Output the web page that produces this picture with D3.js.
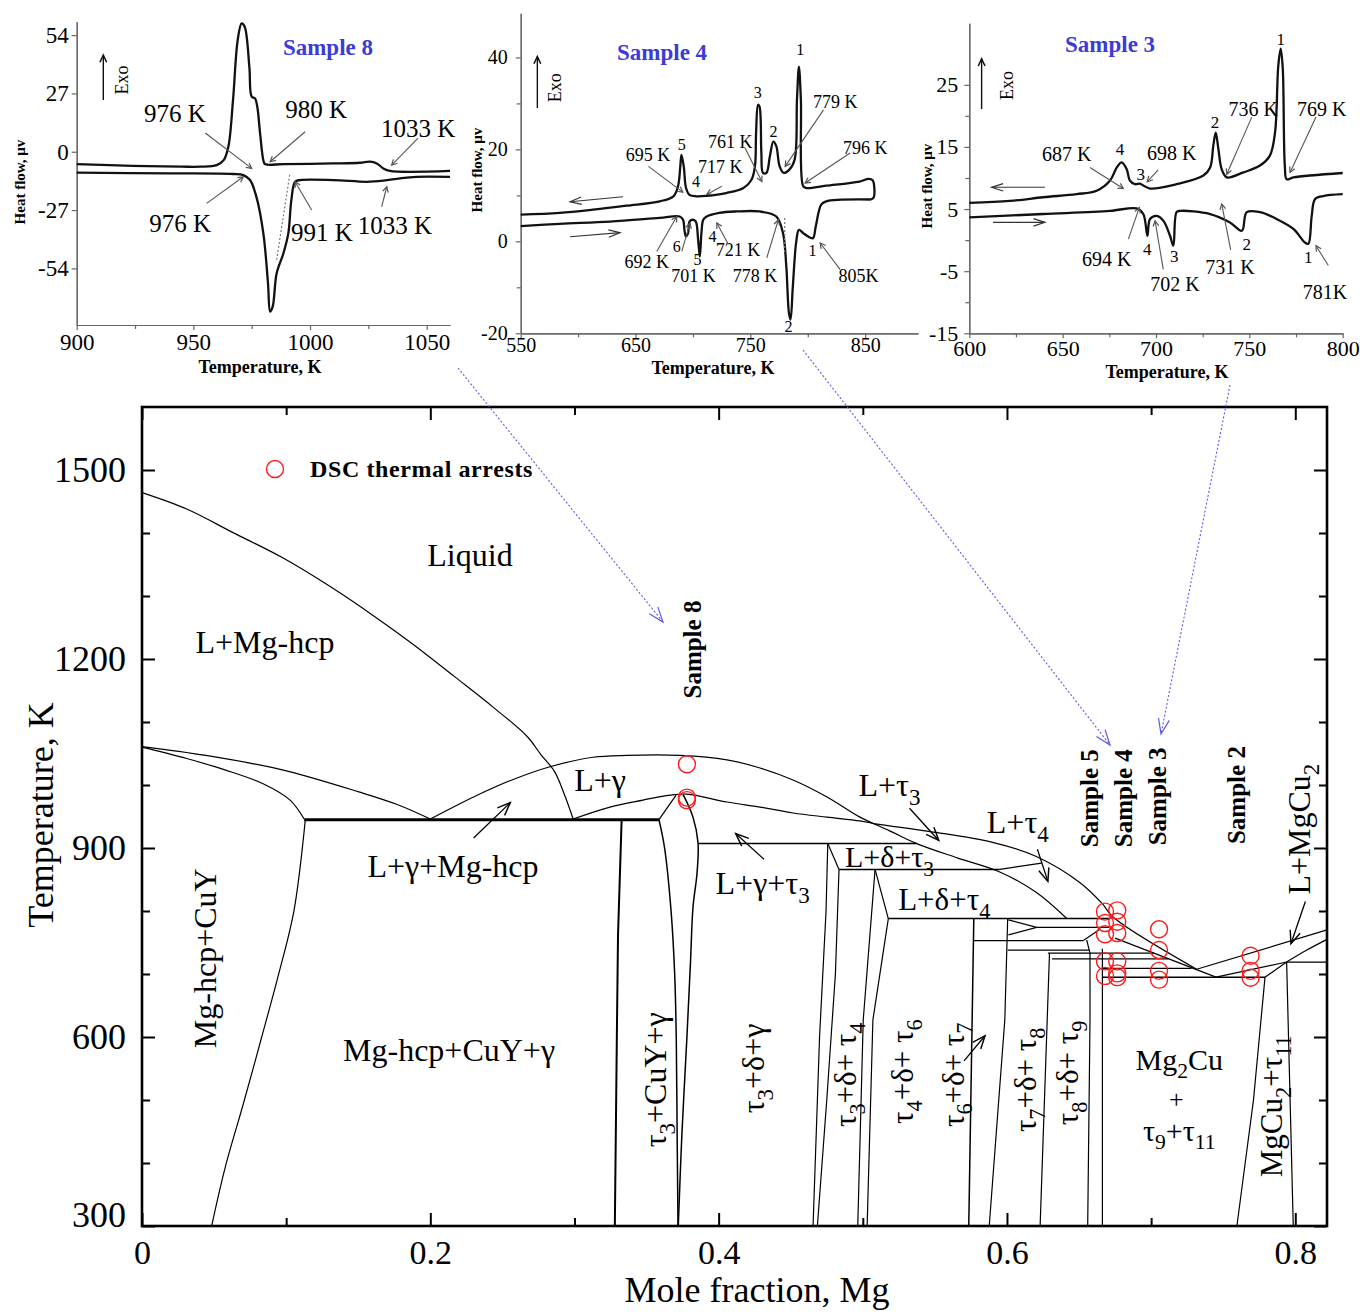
<!DOCTYPE html>
<html><head><meta charset="utf-8">
<script src="https://cdn.jsdelivr.net/npm/d3@7/dist/d3.min.js"></script>
<style>body{margin:0;background:#fff}svg{display:block}</style>
</head><body>
<svg id="c" width="1360" height="1312"></svg>
<script>
// ================= MAIN DIAGRAM DATA (X = mole fraction Mg, T in K) =================
const xTicksMajor = [0, 0.2, 0.4, 0.6, 0.8];
const xTicksMinor = [0.1, 0.3, 0.5, 0.7];
const yTicksMajor = [300, 600, 900, 1200, 1500];
const yTicksMinor = [400, 500, 700, 800, 1000, 1100, 1300, 1400];

const liqHcpUpper = [[0,1464],[0.031,1438],[0.0628,1401],[0.0973,1361],[0.1319,1313],[0.161,1268],[0.19,1220],[0.2168,1172],[0.2433,1124],[0.2672,1077],[0.2768,1048],[0.286,1022],[0.293,985],[0.2991,946]];
const hcpLiquidus = [[0,1061],[0.0443,1047],[0.0973,1024],[0.1504,989],[0.177,969],[0.2,946]];
const hcpSolidus = [[0,1060],[0.031,1042],[0.0575,1024],[0.084,1002],[0.1027,976],[0.1125,946]];
const eutectic945 = [[0.1125,945],[0.3586,945]];
const hcpSolvus = [[0.1133,945],[0.1053,799],[0.0947,699],[0.0828,598],[0.0708,498],[0.0576,392],[0.0483,300]];
const gammaLiquidus = [[0.2,946],[0.23,981],[0.2566,1008],[0.283,1029],[0.3128,1044],[0.3364,1047],[0.3732,1047],[0.4058,1040],[0.4287,1027],[0.4516,1008],[0.4752,981],[0.498,949],[0.518,928],[0.5374,907],[0.566,884],[0.595,862],[0.62,830],[0.6415,788]];
const lowerLiquidus = [[0.299,946],[0.3246,965],[0.3475,976],[0.3663,984],[0.378,985.5],[0.4058,973],[0.4287,965],[0.4516,955.6],[0.4752,949],[0.498,943],[0.51,938],[0.547,926],[0.59,909],[0.62,887],[0.6507,845],[0.666,812],[0.6738,790],[0.7316,707.5]];
const upperVRight = [[0.7316,707.5],[0.822,770]];
const cuyLeft = [[0.3327,945],[0.3302,762],[0.3294,604],[0.328,300]];
const tau3Line = [[0.3586,945],[0.3625,900],[0.367,800],[0.3695,700],[0.3706,600],[0.3712,450],[0.3718,300]];
const tau3Rise = [[0.3586,945],[0.3705,984]];
const gammaRight = [[0.3753,985],[0.3822,949],[0.3857,908],[0.385,860],[0.3822,806],[0.3805,720],[0.378,600],[0.3745,445],[0.372,300]];
const iso907 = [[0.3857,907],[0.5374,907]];
const kinkA = [[0.4757,907],[0.4835,866]];
const deltaLeft1 = [[0.4757,907],[0.4745,800],[0.47,600],[0.4655,300]];
const deltaLeft2 = [[0.4835,866],[0.481,700],[0.475,500],[0.4685,300]];
const iso866 = [[0.4835,866],[0.595,866]];
const link866 = [[0.595,866],[0.624,876]];
const tau4Line1 = [[0.5085,866],[0.5003,627],[0.4965,300]];
const kinkB = [[0.5085,866],[0.5177,788]];
const tau4Line2 = [[0.5177,788],[0.507,627],[0.503,300]];
const iso788 = [[0.5177,788],[0.671,788]];
const tau6Line = [[0.577,788],[0.5735,300]];
const tau7Line = [[0.6005,788],[0.5985,627],[0.5877,300]];
const wedgeTop = [[0.601,786],[0.6206,774]];
const wedgeBot = [[0.601,762],[0.6206,774]];
const iso774 = [[0.6206,774],[0.671,774]];
const iso753 = [[0.577,753],[0.653,753]];
const link753 = [[0.653,753],[0.665,772]];
const iso738 = [[0.6005,738],[0.6576,738]];
const iso733 = [[0.6284,733],[0.702,733]];
const iso724 = [[0.6313,724],[0.712,724]];
const iso709 = [[0.6662,709],[0.728,709]];
const tau8Line = [[0.6295,733],[0.623,300]];
const tau9Line = [[0.6553,754],[0.6576,733],[0.6576,627],[0.656,300]];
const mg2cuLeft = [[0.6662,740],[0.6662,300]];
const lowerVLeft = [[0.675,757],[0.745,695]];
const iso695 = [[0.6662,695],[0.779,695]];
const lowerVRight = [[0.745,695],[0.794,719]];
const mgcu2Corner = [[0.779,695],[0.794,719]];
const iso719 = [[0.794,719],[0.822,719]];
const rightCurve = [[0.794,719],[0.808,738],[0.822,755]];
const mgcu2Left = [[0.779,695],[0.771,500],[0.7595,300]];
const mgcu2Right = [[0.794,719],[0.7986,300]];

// DSC thermal arrests
const sample8X = 0.378, sample8T = [976, 980, 1033];
const sample5X = 0.668, sample5T = [799, 781, 763, 720, 697];
const sample4X = 0.6765, sample4T = [801, 783, 765, 720, 701, 695];
const sample3X = 0.7055, sample3T = [771, 738, 705, 691];
const sample2X = 0.769, sample2T = [729, 705, 694];

// ================= DSC INSET DATA (T in K, heat flow in µV) =================
const s8Ticks = {x:[900,950,1000,1050], y:[54,27,0,-27,-54]};
const s8Cooling = [[900,-5.7],[924,-6.5],[945,-6.9],[953,-6.9],[960,-6.2],[963,-3.9],[965,2.3],[967,23.9],[969,51.7],[970.7,59.4],[972,57.9],[974,39.3],[975,25.5],[976.4,24.7],[977.4,20.8],[978.6,8.5],[980,-3.9],[980.7,-5.7],[988.6,-5.7],[1010,-5.4],[1021.4,-5.1],[1025.7,-4.6],[1028.6,-5.4],[1031.4,-7.7],[1034.3,-8.9],[1060,-8.9]];
const s8Heating = [[900,-9.7],[940,-10.0],[967,-10.3],[971.4,-10.8],[974.3,-13.1],[977,-20.8],[980,-37.8],[982,-61],[982.9,-74],[984,-71.7],[985.7,-56.3],[988.6,-47],[990.7,-37.8],[992,-22.4],[993.6,-13.9],[995.7,-13.1],[1010,-13.1],[1024.3,-13.9],[1031.4,-13.4],[1038.6,-12.3],[1045.7,-11.6],[1060,-11.6]];
const s8Tangent = [[985.7,-50],[991.4,-10]];

const s4Ticks = {x:[550,650,750,850], y:[40,20,0,-20]};
const s4Cooling = [[550,5.8],[584,6.2],[613,6.9],[642,7.75],[671,8.7],[683,9.8],[687,12],[689,16.3],[690,18.8],[692,16.3],[694,11.6],[697,10.1],[703,9.8],[712,9.9],[729,10.5],[744,11.6],[751,13.4],[754,16.3],[755,23.6],[756.7,29.7],[758,29.3],[759.6,19.2],[761,14.9],[764,14.9],[767,18.5],[770,21.7],[772.6,20.7],[775.5,16.3],[779,14.9],[784,15.6],[788.6,17.8],[790.6,30.8],[792.3,38],[794,30.8],[796,12],[798.7,11.6],[816,12.1],[845,13],[853,13.6],[856.5,13.3],[858,11.5],[857.5,9.6],[855,9.1]];
const s4Heating = [[855,9.1],[816,8.7],[811.7,8],[807,3.3],[804.5,0.7],[800,1.1],[796,1.8],[792.3,2.5],[790,0],[787,-9.8],[785,-17],[783.6,-15.6],[781.3,-5.4],[778.4,1.8],[772.6,5.4],[758,6.5],[737.8,6.5],[723,6.2],[712,5.4],[709,4.7],[707.4,1.8],[706,-3.3],[704.5,0.4],[702.5,4.3],[700,4.7],[697,4.3],[695.8,1.8],[693.8,1.1],[692.6,2.5],[691.4,4.7],[688.5,5.4],[671,5.1],[627.7,4.3],[584,3.8],[550,3.3]];
const s4Dashed = [[779.9,5.1],[779.9,-2.5]];

const s3Ticks = {x:[600,650,700,750,800], y:[25,15,5,-5,-15]};
const s3Cooling = [[600,6],[621.8,6.3],[639.6,6.9],[657.5,7.4],[668.2,7.95],[675.4,9.6],[679,11.7],[681.6,12.5],[684.3,11.4],[686,9.6],[688.8,9.0],[691.4,9.1],[693.2,8.8],[696.8,8.3],[711,9.0],[725.4,10.4],[729,11.7],[730.7,15.2],[732,17.3],[733.4,14.7],[735.2,11.4],[737.9,10.1],[746.8,10.9],[755.7,12],[761,13.6],[763.75,17.3],[765.5,28.1],[766.8,30.8],[767.9,27.6],[769,12],[770,9.8],[773.6,10.1],[800,10.8]];
const s3Heating = [[600,3.66],[639.6,4.2],[675.4,4.7],[689.6,5.1],[693.2,4.2],[695.4,0.7],[696.8,3.4],[700.4,3.9],[704,3.1],[707.5,0.7],[709.3,-0.9],[711,4.5],[712.9,4.7],[729,4.2],[739.6,2.85],[746,1.5],[748.6,4.5],[755.7,4.5],[764.6,3.4],[773.6,1.8],[779.8,-0.4],[781.6,-0.6],[783.4,3.9],[785.2,6.6],[789.6,7.1],[800,7.4]];

// ================= DRAWING =================
const FONT = "'Liberation Serif','Times New Roman',serif";
const svg = d3.select('#c');
svg.append('rect').attr('width',1360).attr('height',1312).attr('fill','#fff');

function rich(t, str, fs){
  const parts = str.split(/(_\d+)/).filter(s=>s.length);
  let sub=false;
  parts.forEach(p=>{
    if(p[0]==='_'){ t.append('tspan').attr('font-size',fs*0.72).attr('dy',fs*0.28).text(p.slice(1)); sub=true; }
    else { const ts=t.append('tspan').text(p); if(sub){ts.attr('dy',-fs*0.28); sub=false;} }
  });
}
function arrow(g, x1,y1,x2,y2, o){
  o = Object.assign({color:'#000', w:1.2, head:12, ang:22, dash:null}, o||{});
  const l = g.append('line').attr('x1',x1).attr('y1',y1).attr('x2',x2).attr('y2',y2)
    .attr('stroke',o.color).attr('stroke-width',o.w);
  if(o.dash) l.attr('stroke-dasharray',o.dash);
  const a = Math.atan2(y2-y1,x2-x1), r=o.ang*Math.PI/180;
  const p = [[x2-o.head*Math.cos(a-r), y2-o.head*Math.sin(a-r)],[x2,y2],[x2-o.head*Math.cos(a+r), y2-o.head*Math.sin(a+r)]];
  g.append('path').attr('d', d3.line()(p)).attr('fill','none').attr('stroke',o.color).attr('stroke-width',o.w*1.1);
}

// ---------- Main plot ----------
const x = d3.scaleLinear().domain([0,0.822]).range([142,1327]);
const y = d3.scaleLinear().domain([300,1600]).range([1226,407]);
const main = svg.append('g');

function axisStyle(sel){ sel.select('.domain').remove(); sel.selectAll('line').attr('stroke','#000').attr('stroke-width',2); }
main.append('g').attr('transform','translate(0,1226)')
  .call(d3.axisBottom(x).tickValues(xTicksMajor).tickSize(-13).tickPadding(14).tickFormat(d=>d===0?'0':d3.format('.1f')(d)))
  .call(axisStyle).selectAll('text').attr('font-family',FONT).attr('font-size',34).attr('fill','#000');
main.append('g').attr('transform','translate(0,1226)').call(d3.axisBottom(x).tickValues(xTicksMinor).tickSize(-8).tickFormat('')).call(axisStyle);
main.append('g').attr('transform','translate(0,407)').call(d3.axisTop(x).tickValues(xTicksMajor).tickSize(-13).tickFormat('')).call(axisStyle);
main.append('g').attr('transform','translate(0,407)').call(d3.axisTop(x).tickValues(xTicksMinor).tickSize(-8).tickFormat('')).call(axisStyle);
main.append('g').attr('transform','translate(142,0)')
  .call(d3.axisLeft(y).tickValues(yTicksMajor).tickSize(-13).tickPadding(16).tickFormat(d=>String(d)))
  .call(axisStyle).selectAll('text').attr('font-family',FONT).attr('font-size',36).attr('fill','#000')
  .attr('dy',d=>d===300?'0.0em':'0.32em');
main.append('g').attr('transform','translate(142,0)').call(d3.axisLeft(y).tickValues(yTicksMinor).tickSize(-8).tickFormat('')).call(axisStyle);
main.append('g').attr('transform','translate(1327,0)').call(d3.axisRight(y).tickValues(yTicksMajor).tickSize(-13).tickFormat('')).call(axisStyle);
main.append('g').attr('transform','translate(1327,0)').call(d3.axisRight(y).tickValues(yTicksMinor).tickSize(-8).tickFormat('')).call(axisStyle);

main.append('rect').attr('x',142).attr('y',407).attr('width',1185).attr('height',819)
  .attr('fill','none').attr('stroke','#000').attr('stroke-width',2.6);

const lineLin = d3.line().x(d=>x(d[0])).y(d=>y(d[1]));
const lineCur = d3.line().x(d=>x(d[0])).y(d=>y(d[1])).curve(d3.curveCatmullRom.alpha(0.5));
const boundaries = [
  [liqHcpUpper,1.2,1],[hcpLiquidus,1.2,1],[hcpSolidus,1.2,1],[eutectic945,3,0],[hcpSolvus,1.2,1],
  [gammaLiquidus,1.2,1],[lowerLiquidus,1.2,1],[upperVRight,1.2,0],[cuyLeft,2,0],[tau3Line,1.5,1],[tau3Rise,1.2,0],
  [gammaRight,1.5,1],[iso907,1.5,0],[kinkA,1.2,0],[deltaLeft1,1.2,0],[deltaLeft2,1.2,0],[iso866,1.5,0],[link866,1.2,0],
  [tau4Line1,1.2,0],[kinkB,1.2,0],[tau4Line2,1.2,0],[iso788,1.5,0],[tau6Line,1.5,0],[tau7Line,1.2,0],
  [wedgeTop,1.2,0],[wedgeBot,1.2,0],[iso774,1.2,0],[iso753,1.2,0],[link753,1.2,0],[iso738,1.2,0],
  [iso733,1.2,0],[iso724,1.2,0],[iso709,1.2,0],[tau8Line,1.2,0],[tau9Line,1.2,0],[mg2cuLeft,1.2,0],
  [lowerVLeft,1.2,0],[iso695,1.5,0],[lowerVRight,1.2,0],[mgcu2Corner,1.2,0],[iso719,1.2,0],[rightCurve,1.2,1],
  [mgcu2Left,1.2,0],[mgcu2Right,1.2,0]
];
boundaries.forEach(([pts,w,c])=>{
  main.append('path').attr('d',(c?lineCur:lineLin)(pts)).attr('fill','none').attr('stroke','#000').attr('stroke-width',w);
});

// region labels [text, X, T, rotated, font size]
const regionLabels = [
  ['Liquid',0.2275,1365,0,32],['L+Mg-hcp',0.0853,1227,0,32],['L+γ',0.3177,1008,0,32],['L+γ+Mg-hcp',0.2157,871,0,32],
  ['Mg-hcp+CuY',0.0437,725,1,32],['Mg-hcp+CuY+γ',0.213,579,0,32],['τ_3+CuY+γ',0.3559,532,1,32],['τ_3+δ+γ',0.4235,550,1,32],
  ['τ_3+δ+ τ_4',0.4877,540,1,31],['τ_4+δ+ τ_6',0.5275,545,1,31],['τ_6+δ+ τ_7',0.5625,540,1,31],['τ_7+δ+ τ_8',0.6125,532,1,31],
  ['τ_8+δ+ τ_9',0.642,543,1,31],['Mg_2Cu',0.7195,565,0,30],['+',0.7175,502,0,26],['τ_9+τ_11',0.7195,452,0,30],
  ['MgCu_2+τ_11',0.7835,490,1,31],['L+MgCu_2',0.8025,930,1,32],['L+τ_3',0.5185,1001,0,32],['L+τ_4',0.6075,942,0,32],
  ['L+δ+τ_3',0.5185,886,0,30],['L+δ+τ_4',0.5565,819,0,31],['L+γ+τ_3',0.4305,844,0,32]
];
regionLabels.forEach(([s,X,T,rot,fs])=>{
  const t = main.append('text').attr('font-family',FONT).attr('font-size',fs).attr('text-anchor','middle')
    .attr('dy','0.35em');
  if(rot) t.attr('transform',`translate(${x(X)},${y(T)}) rotate(-90)`);
  else t.attr('x',x(X)).attr('y',y(T));
  rich(t,s,fs);
});
const mainArrows = [[[0.23,916],[0.2555,972]],[[0.4315,882],[0.4118,923]],[[0.5324,963],[0.5527,912]],
  [[0.6211,898],[0.6284,847]],[[0.5702,562],[0.5848,602]],[[0.807,815],[0.797,748]]];
mainArrows.forEach(([a,b])=>arrow(main,x(a[0]),y(a[1]),x(b[0]),y(b[1]),{w:1.3,head:14}));

// sample labels
[['Sample 8',0.3814,1215],['Sample 5',0.657,979],['Sample 4',0.681,979],['Sample 3',0.704,982],['Sample 2',0.759,984]]
.forEach(([s,X,T])=>{
  main.append('text').attr('transform',`translate(${x(X)},${y(T)}) rotate(-90)`).attr('dy','0.35em')
    .attr('text-anchor','middle').attr('font-family',FONT).attr('font-weight','bold').attr('font-size',25).text(s);
});
// DSC circles
[[sample8X,sample8T],[sample5X,sample5T],[sample4X,sample4T],[sample3X,sample3T],[sample2X,sample2T]].forEach(([X,Ts])=>{
  main.selectAll(null).data(Ts).enter().append('circle').attr('cx',x(X)).attr('cy',d=>y(d)).attr('r',8.5)
    .attr('fill','none').attr('stroke','#ff1a1a').attr('stroke-width',1.4);
});
// legend
main.append('circle').attr('cx',275).attr('cy',469).attr('r',8.5).attr('fill','none').attr('stroke','#ff1a1a').attr('stroke-width',1.4);
main.append('text').attr('x',310).attr('y',477).attr('font-family',FONT).attr('font-weight','bold').attr('font-size',24)
  .attr('letter-spacing',0.6).text('DSC thermal  arrests');
// axis titles
main.append('text').attr('transform','translate(40,815) rotate(-90)').attr('dy','0.35em').attr('text-anchor','middle')
  .attr('font-family',FONT).attr('font-size',36).text('Temperature, K');
main.append('text').attr('x',757).attr('y',1302).attr('text-anchor','middle')
  .attr('font-family',FONT).attr('font-size',36).text('Mole fraction, Mg');

// ---------- Insets ----------
function inset(cfg){
  const g = svg.append('g');
  const xs = d3.scaleLinear().domain(cfg.xDom).range(cfg.xR);
  const ys = d3.scaleLinear().domain(cfg.yDom).range(cfg.yR);
  const st = sel=>{ sel.selectAll('path,line').attr('stroke','#666').attr('stroke-width',1.2);
    sel.selectAll('text').attr('font-family',FONT).attr('font-size',cfg.tfs).attr('fill','#000'); };
  g.append('g').attr('transform',`translate(0,${cfg.yR[0]})`).call(d3.axisBottom(xs).tickValues(cfg.ticks.x).tickSize(5).tickSizeOuter(0).tickPadding(cfg.xPad).tickFormat(d=>String(d))).call(st);
  g.append('g').attr('transform',`translate(0,${cfg.yR[0]})`).call(d3.axisBottom(xs).tickValues(cfg.xMinor).tickSize(4).tickSizeOuter(0).tickFormat('')).call(st);
  g.append('g').attr('transform',`translate(${cfg.xR[0]},0)`).call(d3.axisLeft(ys).tickValues(cfg.ticks.y).tickSize(5).tickSizeOuter(0).tickPadding(cfg.yPad).tickFormat(d=>String(d))).call(st);
  g.append('g').attr('transform',`translate(${cfg.xR[0]},0)`).call(d3.axisLeft(ys).tickValues(cfg.yMinor).tickSize(4).tickSizeOuter(0).tickFormat('')).call(st);
  const ln = d3.line().x(d=>xs(d[0])).y(d=>ys(d[1])).curve(d3.curveCatmullRom.alpha(0.5));
  cfg.curves.forEach(c=>g.append('path').attr('d',ln(c)).attr('fill','none').attr('stroke','#111').attr('stroke-width',2.3));
  (cfg.dotted||[]).forEach(c=>g.append('path').attr('d',d3.line().x(d=>xs(d[0])).y(d=>ys(d[1]))(c)).attr('fill','none').attr('stroke','#777').attr('stroke-width',1.2).attr('stroke-dasharray','2,2'));
  cfg.labels.forEach(([s,T,H,fs])=>g.append('text').attr('x',xs(T)).attr('y',ys(H)).attr('dy','0.35em').attr('text-anchor','middle')
    .attr('font-family',FONT).attr('font-size',fs).text(s));
  cfg.arrows.forEach(([a,b,c])=>arrow(g,xs(a[0]),ys(a[1]),xs(b[0]),ys(b[1]),{color:c||'#555',w:1.1,head:c?12:6,ang:c?18:28}));
  // Exo arrow
  arrow(g,xs(cfg.exo[0]),ys(cfg.exo[1]),xs(cfg.exo[0]),ys(cfg.exo[2]),{color:'#111',w:1.4,head:8,ang:25});
  g.append('text').attr('transform',`translate(${xs(cfg.exoT[0])},${ys(cfg.exoT[1])}) rotate(-90)`).attr('dy','0.35em')
    .attr('text-anchor','middle').attr('font-family',FONT).attr('font-size',18).text('Exo');
  g.append('text').attr('x',xs(cfg.title[0])).attr('y',ys(cfg.title[1])).attr('dy','0.35em').attr('text-anchor','middle')
    .attr('font-family',FONT).attr('font-weight','bold').attr('font-size',23).attr('fill','#3b3bd8').text(cfg.title[2]);
  g.append('text').attr('transform',`translate(${cfg.yTitle[0]},${cfg.yTitle[1]}) rotate(-90)`).attr('dy','0.35em')
    .attr('text-anchor','middle').attr('font-family',FONT).attr('font-weight','bold').attr('font-size',15).text('Heat flow, μv');
  g.append('text').attr('x',cfg.xTitle[0]).attr('y',cfg.xTitle[1]).attr('dy','0.35em').attr('text-anchor','middle')
    .attr('font-family',FONT).attr('font-weight','bold').attr('font-size',18).text('Temperature, K');
}

inset({xDom:[900,1060], xR:[76.7,450], yDom:[-80.2,60.2], yR:[325,21.7], ticks:s8Ticks, xMinor:[925,975,1025], yMinor:[],
  tfs:23, xPad:4, yPad:3, curves:[s8Cooling,s8Heating], dotted:[s8Tangent],
  labels:[['976 K',942.1,17.9,25],['980 K',1002.6,19.7,25],['1033 K',1046.3,11,25],['976 K',944.3,-33,25],['991 K',1005.1,-37.2,25],['1033 K',1036.4,-33.9,25]],
  arrows:[[[955.1,8.66],[975,-7.7]],[[997.9,9.26],[982.9,-4.63]],[[1046.3,6.34],[1035,-6.16]],[[955.7,-23.9],[971.4,-11.6]],[[1000.7,-27],[993.6,-13.9]],[[1030.7,-25.5],[1032.9,-16.2]]],
  exo:[911.4,23.9,44.8], exoT:[919.3,33.2], title:[1007.7,48.5,'Sample 8'], yTitle:[20,182], xTitle:[260,367]});

inset({xDom:[550,896], xR:[520.7,918], yDom:[-20,49.6], yR:[333.3,13.3], ticks:s4Ticks, xMinor:[600,700,800], yMinor:[30,10,-10],
  tfs:20, xPad:0, yPad:8, curves:[s4Cooling,s4Heating], dotted:[s4Dashed],
  labels:[['1',793.4,41.7,16],['3',756.5,32.3,16],['2',770.1,23.9,16],['5',690.3,21,16],['4',702.7,13,16],
    ['779 K',823.9,30.4,18],['761 K',732.4,21.7,18],['717 K',723.7,16.3,18],['695 K',660.9,18.8,18],['796 K',850,20.3,18],
    ['6',685.9,-1.2,16],['5',703.9,-4,16],['4',717,1.1,16],['721 K',739.3,-1.8,18],['692 K',659.8,-4.35,18],['701 K',700.4,-7.5,18],
    ['778 K',754.1,-7.5,18],['1',804.1,-2,16],['805K',844.2,-7.5,18],['2',783.2,-18.5,16]],
  arrows:[[[813.7,28.6],[780.3,16.3]],[[745.4,20.3],[760,13]],[[725.1,12],[712.1,10.2]],[[661.2,16.3],[691.2,10.7]],[[836.9,19.2],[797.7,12.7]],
    [[668.5,-2.2],[685.9,5.4]],[[690.3,-2.2],[697.5,4]],[[730.9,-0.7],[720.8,4]],[[764.3,-3.6],[774.4,4.7]],[[828.2,-6.15],[810.8,-0.35]],
    [[639.1,9.7],[593,8.6],'#333'],[[593,1],[636.5,1.9],'#333']],
  exo:[564.5,29,40.2], exoT:[579.9,33.4], title:[673.1,41.2,'Sample 4'], yTitle:[477,170], xTitle:[713,368]});

inset({xDom:[600,800], xR:[969.3,1342.7], yDom:[-15,34.9], yR:[333.3,23.3], ticks:s3Ticks, xMinor:[625,675,725,775], yMinor:[20,10,0,-10],
  tfs:22, xPad:2, yPad:6, curves:[s3Cooling,s3Heating],
  labels:[['1',766.8,32.4,17],['2',731.6,19,17],['4',680.7,14.7,17],['3',691.8,10.6,17],
    ['687 K',652.2,13.9,20],['698 K',708.4,14.1,20],['736 K',752.1,21.1,20],['769 K',788.8,21.1,20],
    ['694 K',673.6,-3.05,20],['4',695.3,-1.44,17],['3',709.8,-2.5,17],['702 K',710.2,-7.1,20],['731 K',739.6,-4.4,20],
    ['2',748.6,-0.64,17],['1',781.6,-2.8,17],['781K',790.5,-8.4,20]],
  arrows:[[[664.6,11.7],[682.5,8.3]],[[701.2,11.3],[695.3,9.4]],[[751.3,19.8],[737.9,10.6]],[[785.7,19.8],[771.8,10.9]],
    [[685.2,0.17],[691.1,5.27]],[[703.9,-4.7],[699.5,3.1]],[[740,-1.56],[735.2,5.8]],[[792.3,-4.1],[785.7,-0.9]],
    [[640.5,8.5],[612,8.5],'#333'],[[612.7,2.86],[640.5,2.86],'#333']],
  exo:[606.6,21.1,29.2], exoT:[620,24.9], title:[675.4,31.6,'Sample 3'], yTitle:[927,186], xTitle:[1167,372]});

// ---------- Blue connector arrows ----------
const conn = svg.append('g');
[[458,368,663,622],[803,350,1110,745],[1230,385,1161,734]].forEach(([a,b,c,d])=>
  arrow(conn,a,b,c,d,{color:'#5a5af0',w:1.1,head:16,ang:20,dash:'2,2'}));
</script>
</body></html>
